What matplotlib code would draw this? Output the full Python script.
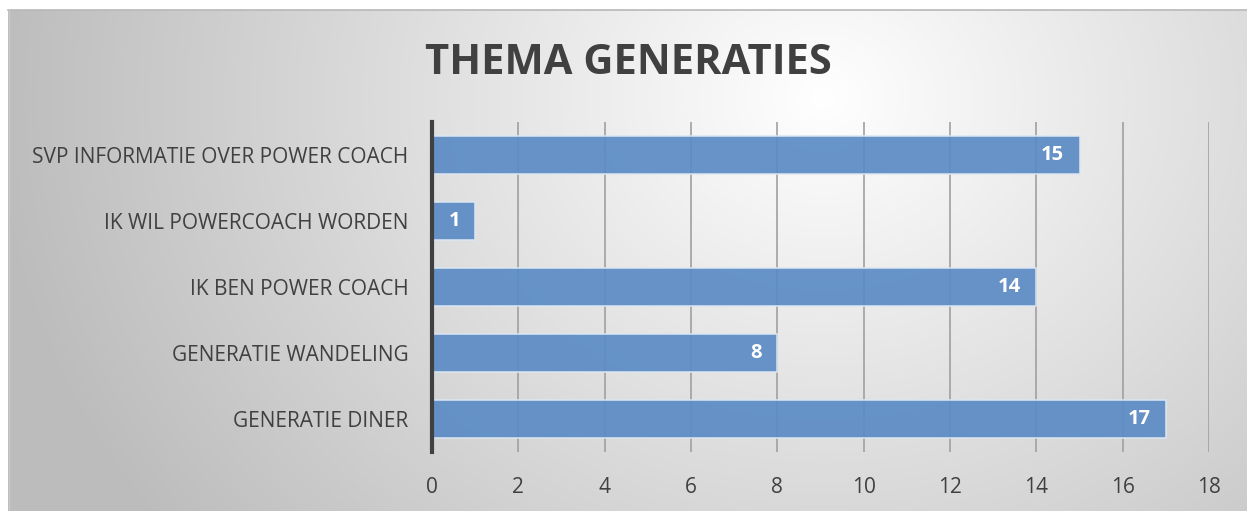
import numpy as np
import matplotlib.pyplot as plt

# Data
categories = [
    "SVP INFORMATIE OVER POWER COACH",
    "IK WIL POWERCOACH WORDEN",
    "IK BEN POWER COACH",
    "GENERATIE WANDELING",
    "GENERATIE DINER",
]
values = [15, 1, 14, 8, 17]
xticks = [0, 2, 4, 6, 8, 10, 12, 14, 16, 18]

W, H = 1247, 511
plt.rcParams["font.family"] = ["Open Sans", "DejaVu Sans"]

fig = plt.figure(figsize=(W / 100, H / 100), dpi=100)
fig.patch.set_facecolor("white")

# Background radial gradient in the chart area
bg = fig.add_axes([0, 0, 1, 1], zorder=0)
bg.set_xlim(0, W)
bg.set_ylim(H, 0)
bg.axis("off")
yy, xx = np.mgrid[0:H, 0:W]
r = np.sqrt((xx - 820) ** 2 + ((yy - 90) * 1.15) ** 2)
shade = np.clip(1.0 - 0.25 * r / 800, 0.74, 1.0)
img = np.dstack([shade, shade, shade])
bg.imshow(img, extent=(8, W, H, 10), aspect="auto", zorder=0)
bg.plot([8, W], [10.5, 10.5], color="#b8b8b8", lw=1.2, zorder=1)
bg.plot([8.5, 8.5], [10, H], color="#c8c8c8", lw=1, zorder=1)

ax = fig.add_axes([432 / W, (H - 452) / H, (1209 - 432) / W, (452 - 122) / H], zorder=1)
ax.patch.set_alpha(0)

y = np.arange(len(categories))
ax.barh(y, values, height=0.58, color="#5b8bc5", alpha=0.92,
        edgecolor="#dce6f2", linewidth=1.2, zorder=3)

for yi, v in zip(y, values):
    ax.annotate(str(v), (v, yi), xytext=(-11, 0), textcoords="offset points",
                ha="right", va="center", color="white", fontsize=14.5,
                fontweight="bold", zorder=4)

ax.set_xlim(0, 18)
ax.set_ylim(len(categories) - 0.5, -0.5)
ax.set_xticks(xticks)
ax.set_yticks(y)
ax.set_yticklabels(categories)
ax.tick_params(axis="y", length=0, pad=17, labelsize=15, labelcolor="#404040")
ax.tick_params(axis="x", length=0, pad=18, labelsize=15, labelcolor="#404040")

for s in ["top", "right", "bottom"]:
    ax.spines[s].set_visible(False)
ax.spines["left"].set_color("#404040")
ax.spines["left"].set_linewidth(3)
ax.spines["left"].set_zorder(5)

ax.xaxis.grid(True, color="#a0a0a0", linewidth=1.2, zorder=1)
ax.set_axisbelow(True)

fig.text(628 / W, 1 - 63 / H, "THEMA GENERATIES", ha="center", va="center",
         fontsize=30, fontweight="bold", color="#404040")

fig.savefig("out.png", dpi=100)
